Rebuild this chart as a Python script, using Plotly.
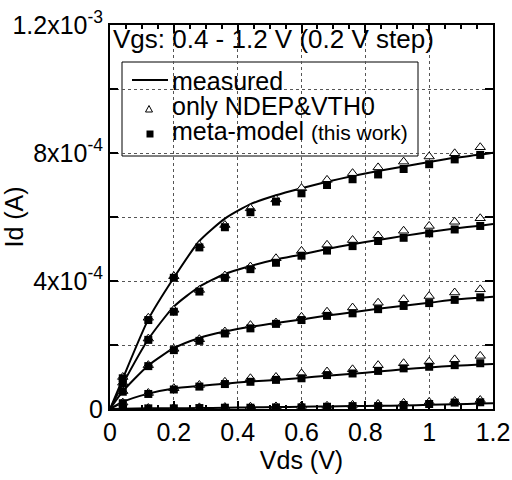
import plotly.graph_objects as go

FONT = "Arial, Liberation Sans, sans-serif"

# Data
vds_meas = [0, 0.04, 0.12, 0.2, 0.28, 0.36, 0.44, 0.52, 0.6, 0.68, 0.76, 0.84, 0.92, 1.0, 1.08, 1.16, 1.2]
vds_pts = [0.04, 0.12, 0.2, 0.28, 0.36, 0.44, 0.52, 0.6, 0.68, 0.76, 0.84, 0.92, 1.0, 1.08, 1.16]

meas_12 = [0, 0.95e-4, 2.8e-4, 4.1e-4, 5.25e-4, 5.95e-4, 6.4e-4, 6.68e-4, 6.9e-4, 7.1e-4, 7.28e-4, 7.44e-4, 7.58e-4, 7.72e-4, 7.85e-4, 7.95e-4, 8.01e-4]
meas_10 = [0, 0.78e-4, 2.18e-4, 3.2e-4, 3.82e-4, 4.22e-4, 4.47e-4, 4.67e-4, 4.83e-4, 5.0e-4, 5.15e-4, 5.28e-4, 5.41e-4, 5.53e-4, 5.64e-4, 5.73e-4, 5.78e-4]
meas_08 = [0, 0.55e-4, 1.36e-4, 1.9e-4, 2.22e-4, 2.42e-4, 2.57e-4, 2.69e-4, 2.8e-4, 2.92e-4, 3.02e-4, 3.13e-4, 3.23e-4, 3.32e-4, 3.42e-4, 3.48e-4, 3.51e-4]
meas_06 = [0, 0.22e-4, 0.48e-4, 0.64e-4, 0.72e-4, 0.79e-4, 0.86e-4, 0.91e-4, 0.97e-4, 1.04e-4, 1.1e-4, 1.17e-4, 1.24e-4, 1.3e-4, 1.35e-4, 1.39e-4, 1.41e-4]
meas_04 = [0, 0.01e-4, 0.02e-4, 0.025e-4, 0.03e-4, 0.04e-4, 0.05e-4, 0.06e-4, 0.07e-4, 0.08e-4, 0.09e-4, 0.10e-4, 0.11e-4, 0.13e-4, 0.15e-4, 0.17e-4, 0.18e-4]

tri_12 = [1.0e-4, 2.85e-4, 4.15e-4, 5.12e-4, 5.75e-4, 6.27e-4, 6.55e-4, 6.9e-4, 7.16e-4, 7.37e-4, 7.55e-4, 7.73e-4, 7.89e-4, 7.99e-4, 8.18e-4]
tri_10 = [0.82e-4, 2.2e-4, 3.1e-4, 3.72e-4, 4.17e-4, 4.45e-4, 4.71e-4, 4.94e-4, 5.13e-4, 5.28e-4, 5.42e-4, 5.57e-4, 5.72e-4, 5.85e-4, 5.96e-4]
tri_08 = [0.56e-4, 1.37e-4, 1.88e-4, 2.18e-4, 2.42e-4, 2.62e-4, 2.70e-4, 2.88e-4, 3.04e-4, 3.17e-4, 3.32e-4, 3.43e-4, 3.53e-4, 3.64e-4, 3.74e-4]
tri_06 = [0.2e-4, 0.5e-4, 0.65e-4, 0.75e-4, 0.85e-4, 0.96e-4, 1.0e-4, 1.11e-4, 1.17e-4, 1.24e-4, 1.37e-4, 1.43e-4, 1.48e-4, 1.55e-4, 1.66e-4]
tri_04 = [0.0, 0.03e-4, 0.04e-4, 0.05e-4, 0.06e-4, 0.07e-4, 0.08e-4, 0.1e-4, 0.1e-4, 0.13e-4, 0.156e-4, 0.19e-4, 0.22e-4, 0.25e-4, 0.28e-4]

sq_12 = [0.96e-4, 2.78e-4, 4.10e-4, 5.05e-4, 5.68e-4, 6.15e-4, 6.48e-4, 6.74e-4, 7.0e-4, 7.18e-4, 7.33e-4, 7.5e-4, 7.65e-4, 7.8e-4, 7.94e-4]
sq_10 = [0.8e-4, 2.16e-4, 3.04e-4, 3.67e-4, 4.10e-4, 4.37e-4, 4.57e-4, 4.79e-4, 4.95e-4, 5.09e-4, 5.25e-4, 5.35e-4, 5.49e-4, 5.61e-4, 5.72e-4]
sq_08 = [0.54e-4, 1.34e-4, 1.84e-4, 2.13e-4, 2.36e-4, 2.52e-4, 2.66e-4, 2.78e-4, 2.91e-4, 2.99e-4, 3.12e-4, 3.22e-4, 3.31e-4, 3.41e-4, 3.49e-4]
sq_06 = [0.18e-4, 0.47e-4, 0.61e-4, 0.70e-4, 0.78e-4, 0.85e-4, 0.91e-4, 0.96e-4, 1.06e-4, 1.11e-4, 1.19e-4, 1.27e-4, 1.32e-4, 1.37e-4, 1.43e-4]
sq_04 = [0.0, 0.02e-4, 0.02e-4, 0.03e-4, 0.04e-4, 0.04e-4, 0.05e-4, 0.05e-4, 0.07e-4, 0.09e-4, 0.09e-4, 0.125e-4, 0.156e-4, 0.2e-4, 0.21e-4]

y_tickvals = [0, 2e-4, 4e-4, 6e-4, 8e-4, 1e-3, 1.2e-3]
y_ticktext = ["0", "", "4x10<sup>-4</sup>", "", "8x10<sup>-4</sup>", "", "1.2x10<sup>-3</sup>"]
x_tickvals = [0, 0.2, 0.4, 0.6, 0.8, 1.0, 1.2]
x_ticktext = ["0", "0.2", "0.4", "0.6", "0.8", "1", "1.2"]

legend_labels = ["measured", "only NDEP&VTH0",
                 "meta-model <span style='font-size:21px'>(this work)</span>"]

# layout geometry (pixels)
W, H = 512, 480
L, R, T, B = 110, 19, 25, 71
PW, PH = W - L - R, H - T - B


def px(x):
    return (x - L) / PW


def py(y):
    return (H - B - y) / PH


fig = go.Figure()

for m in [meas_12, meas_10, meas_08, meas_06, meas_04]:
    fig.add_trace(go.Scatter(x=vds_meas, y=m, mode="lines", showlegend=False,
                             line=dict(color="black", width=2, shape="spline", smoothing=0.6)))
for t in [tri_12, tri_10, tri_08, tri_06, tri_04]:
    fig.add_trace(go.Scatter(x=vds_pts, y=t, mode="markers", showlegend=False,
                             marker=dict(symbol="triangle-up", size=9, color="white",
                                         line=dict(color="black", width=1))))
for s in [sq_12, sq_10, sq_08, sq_06, sq_04]:
    fig.add_trace(go.Scatter(x=vds_pts, y=s, mode="markers", showlegend=False,
                             marker=dict(symbol="square", size=8, color="black")))

axis_common = dict(showline=True, linecolor="black", linewidth=2, mirror="allticks",
                   ticks="inside", tickcolor="black", tickwidth=1.5, ticklen=8,
                   showgrid=True, gridcolor="#555555", griddash="dot", gridwidth=1,
                   zeroline=False, automargin=False,
                   tickfont=dict(family=FONT, size=25, color="black"))

fig.update_xaxes(range=[0, 1.2], tickvals=x_tickvals, ticktext=x_ticktext,
                 title=dict(text="Vds (V)", font=dict(family=FONT, size=25, color="black"), standoff=2),
                 minor=dict(dtick=0.05, ticks="inside", ticklen=4, tickcolor="black", showgrid=False),
                 **axis_common)
fig.update_yaxes(range=[0, 1.2e-3], tickvals=y_tickvals, ticktext=y_ticktext,
                 title=dict(text="Id (A)", font=dict(family=FONT, size=25, color="black"), standoff=6),
                 **axis_common)

shapes = []
# white area behind the title
shapes.append(dict(type="rect", xref="paper", yref="paper", x0=px(L), x1=px(432), y0=py(62), y1=py(T),
                   fillcolor="white", line=dict(width=0), layer="between"))
# legend box
shapes.append(dict(type="rect", xref="paper", yref="paper", x0=px(122), x1=px(418), y0=py(156), y1=py(62),
                   fillcolor="white", line=dict(color="black", width=1), layer="between"))
# line sample
shapes.append(dict(type="line", xref="paper", yref="paper", x0=px(132), x1=px(168), y0=py(80), y1=py(80),
                   line=dict(color="black", width=2), layer="between"))
# triangle sample
tx, ty = 149, 109
shapes.append(dict(type="path", xref="paper", yref="paper",
                   path=f"M {px(tx-3.5)},{py(ty+3)} L {px(tx+3.5)},{py(ty+3)} L {px(tx)},{py(ty-3.5)} Z",
                   fillcolor="white", line=dict(color="black", width=1), layer="between"))
# square sample
sx, sy = 150, 134
shapes.append(dict(type="rect", xref="paper", yref="paper", x0=px(sx-3.5), x1=px(sx+3.5),
                   y0=py(sy+3.5), y1=py(sy-3.5), fillcolor="black", line=dict(width=0), layer="between"))

annotations = [dict(x=px(111), y=py(39), xref="paper", yref="paper", xanchor="left", yanchor="middle",
                    text="Vgs: 0.4 - 1.2 V (0.2 V step)", showarrow=False,
                    font=dict(family=FONT, size=26, color="black"))]
for lab, yc in zip(legend_labels, [81, 106, 131]):
    annotations.append(dict(x=px(170), y=py(yc), xref="paper", yref="paper", xanchor="left",
                            yanchor="middle", text=lab, showarrow=False,
                            font=dict(family=FONT, size=25, color="black")))

fig.update_layout(
    width=W, height=H,
    margin=dict(l=L, r=R, t=T, b=B, autoexpand=False),
    plot_bgcolor="white", paper_bgcolor="white",
    font=dict(family=FONT, color="black"),
    showlegend=False,
    shapes=shapes, annotations=annotations,
)

fig.write_html("out.html")
